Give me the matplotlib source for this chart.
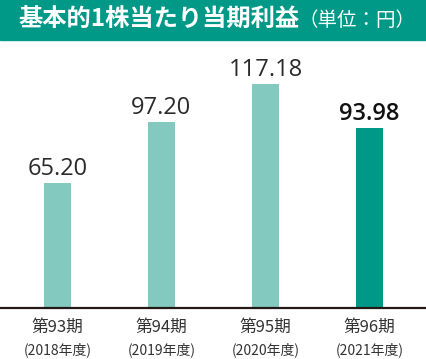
import matplotlib.pyplot as plt
from matplotlib.patches import Rectangle

periods = ["第93期", "第94期", "第95期", "第96期"]
years = ["(2018年度)", "(2019年度)", "(2020年度)", "(2021年度)"]
eps = [65.20, 97.20, 117.18, 93.98]

light = "#84c9c0"
dark = "#009987"
colors = [light, light, light, dark]

plt.rcParams['font.family'] = ['Noto Sans CJK JP', 'DejaVu Sans']

W, H = 426, 359
fig = plt.figure(figsize=(W / 100, H / 100), dpi=100)

# ヘッダー帯
fig.patches.append(Rectangle((0, 1 - 40 / H), 1, 40 / H, transform=fig.transFigure,
                             color=dark, zorder=0))
fig.text(18 / W, 1 - 20 / H, "基本的1株当たり当期利益", color="white",
         fontsize=17.5, fontweight="bold", va="center", ha="left")
fig.text(299 / W, 1 - 21 / H, "（単位：円）", color="white", fontsize=14,
         va="center", ha="left")

# グラフ本体
ax = fig.add_axes([0, (H - 308) / H, 1, (308 - 40) / H])
x = list(range(len(eps)))
ax.bar(x, eps, width=0.26, color=colors)
ax.set_xlim(-57.5 / 104, (W - 57.5) / 104)
ax.set_ylim(0, 140)
ax.axhline(0, color="#231815", lw=1.6, clip_on=False)
for s in ax.spines.values():
    s.set_visible(False)
ax.set_xticks([])
ax.set_yticks([])

for i, v in enumerate(eps):
    last = i == len(eps) - 1
    ax.annotate(f"{v:.2f}", (i, v), xytext=(0, 5.8), textcoords="offset points",
                ha="center", va="baseline", fontsize=17,
                family=["Open Sans", "DejaVu Sans"],
                fontweight="semibold" if last else "normal",
                color="#111111" if last else "#2a2a2a")
    ax.annotate(periods[i], (i, 0), xytext=(0, -13.7), textcoords="offset points",
                ha="center", va="center", fontsize=12, color="#333333",
                annotation_clip=False)
    ax.annotate(years[i], (i, 0), xytext=(0, -30.2), textcoords="offset points",
                ha="center", va="center", fontsize=10, color="#333333",
                annotation_clip=False)

fig.savefig("out.png", dpi=100)
